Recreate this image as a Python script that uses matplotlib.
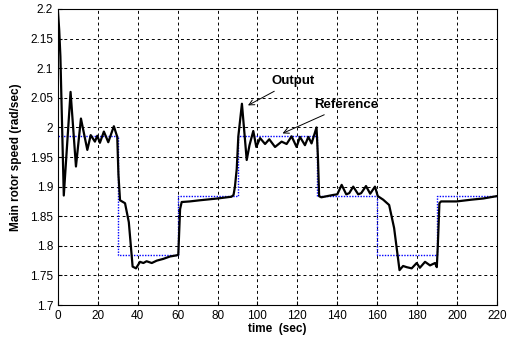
import matplotlib
matplotlib.use("Agg")
import matplotlib.pyplot as plt

plt.rcParams['font.family'] = ['Liberation Sans', 'DejaVu Sans']

# reference speed (step values, held until next time)
ref_t = [0, 30, 60, 90, 130, 160, 190, 220]
ref_v = [1.985, 1.785, 1.885, 1.985, 1.885, 1.785, 1.885, 1.885]

out_t = [0, 0.6, 1.2, 2.9, 6.3, 9.0, 11.5, 14.7, 16.4, 18.5, 19.7, 21.0, 23.0, 25.2, 28.0, 29.7,
         30.3, 31.1, 33.6, 35.5, 37.4, 39.1, 41.1, 42.8, 44.4, 47.0, 49.5, 52.8, 56.1, 59.5, 60.3,
         61.2, 62.0, 66.0, 71.2, 80.0, 87.0, 88.0, 88.7, 89.6, 90.4, 92.2, 94.6, 96.0, 97.9,
         99.4, 101.3, 103.8, 105.9, 108.8, 112.1, 114.6, 117.1, 119.6, 121.3, 123.8, 125.5, 127.1,
         129.6, 130.3, 130.9, 132.0, 135.0, 138.0, 140.0, 142.2, 144.5, 146.0, 148.0, 150.5, 152.0,
         154.4, 156.5, 158.9, 160.3, 163.0, 166.0, 168.5, 171.2, 173.0, 174.8, 177.3, 179.8, 181.4,
         184.0, 186.5, 189.0, 189.9, 190.4, 191.2, 192.0, 199.8, 207.3, 213.2, 220.0]
out_v = [2.195, 2.165, 2.12, 1.885, 2.06, 1.934, 2.015, 1.962, 1.987, 1.976, 1.986, 1.974, 1.993,
         1.975, 2.002, 1.984,
         1.92, 1.877, 1.872, 1.84, 1.765, 1.762, 1.773, 1.771, 1.774, 1.771, 1.775, 1.778, 1.782,
         1.784, 1.785,
         1.862, 1.874, 1.875, 1.877, 1.88, 1.883, 1.886, 1.9, 1.93, 1.985, 2.04, 1.945, 1.97,
         1.994,
         1.967, 1.982, 1.972, 1.98, 1.967, 1.976, 1.972, 1.985, 1.967, 1.984, 1.97, 1.984, 1.973,
         2.0, 1.95, 1.884, 1.882, 1.884, 1.886, 1.887, 1.903, 1.887, 1.889, 1.9, 1.887, 1.889,
         1.901, 1.888, 1.9, 1.884, 1.878, 1.869, 1.83, 1.759, 1.766, 1.764, 1.762, 1.771, 1.763,
         1.773, 1.767, 1.771, 1.764, 1.8, 1.872, 1.875, 1.875, 1.878, 1.88, 1.884]

fig = plt.figure(figsize=(5.07, 3.42), dpi=100)
ax = fig.add_axes([0.1144, 0.108, 0.8656, 0.8657])

ax.plot(ref_t, ref_v, drawstyle='steps-post', color='blue', linestyle=(0, (1, 1)), linewidth=1.0)
ax.plot(out_t, out_v, color='black', linewidth=1.6)

ax.set_xlim(0, 220)
ax.set_ylim(1.7, 2.2)
ax.set_xticks(range(0, 221, 20))
ax.set_yticks([1.7, 1.75, 1.8, 1.85, 1.9, 1.95, 2.0, 2.05, 2.1, 2.15, 2.2])
ax.set_yticklabels(['1.7', '1.75', '1.8', '1.85', '1.9', '1.95', '2', '2.05', '2.1', '2.15', '2.2'])
ax.tick_params(direction='in', length=3, labelsize=8.5)
ax.grid(True, color='black', linestyle=(0, (3, 3)), linewidth=0.7)
for s in ax.spines.values():
    s.set_linewidth(0.8)

ax.set_xlabel('time  (sec)', fontsize=8.5, fontweight='bold', labelpad=1)
ax.set_ylabel('Main rotor speed (rad/sec)', fontsize=8.5, fontweight='bold', labelpad=6)

ax.annotate('Output', xy=(94.0, 2.035), xytext=(107, 2.068), fontsize=9.5, fontweight='bold',
            ha='left', va='bottom',
            arrowprops=dict(arrowstyle='->', color='black', lw=0.7))
ax.annotate('Reference', xy=(111.3, 1.988), xytext=(128.5, 2.028), fontsize=9.5, fontweight='bold',
            ha='left', va='bottom',
            arrowprops=dict(arrowstyle='->', color='black', lw=0.7))

fig.savefig('out.png', dpi=100)
